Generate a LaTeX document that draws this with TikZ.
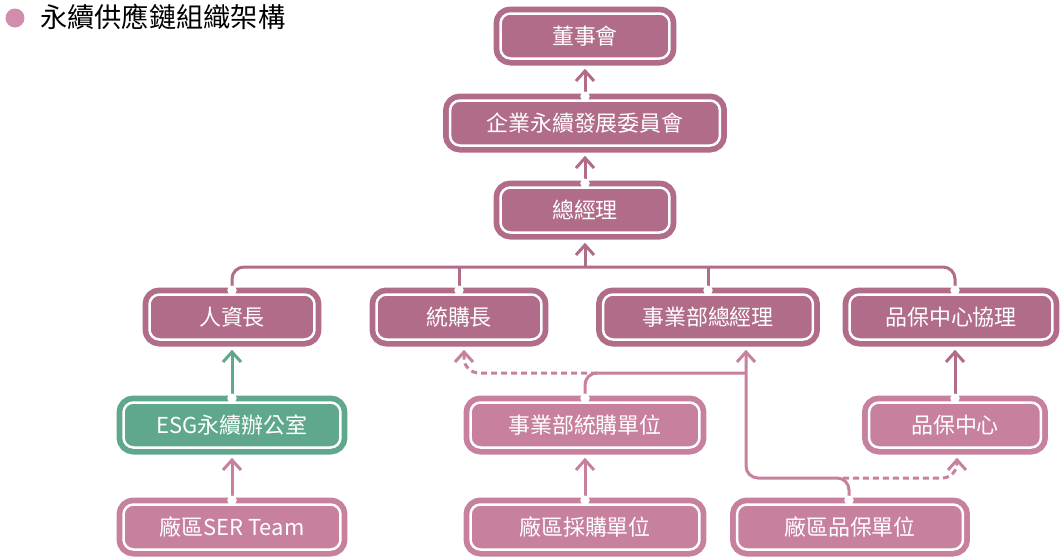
\documentclass[tikz,border=0pt]{standalone}
\usepackage{fontspec}
\setmainfont{Noto Sans CJK TC}
\usetikzlibrary{arrows.meta,calc}
\definecolor{mauve}{HTML}{B06C88}
\definecolor{rose}{HTML}{C7819F}
\definecolor{jade}{HTML}{5FA88C}
\definecolor{bulletpink}{HTML}{D08DAC}

\begin{document}
\begin{tikzpicture}[x=0.02cm, y=-0.02cm,
  box/.style={fill=#1, draw=white, line width=0.05cm, rounded corners=0.2cm,
    preaction={draw=#1, line width=0.28cm}, minimum height=0.9cm, inner sep=0pt,
    text=white, font=\fontsize{12.5}{15}\selectfont},
  link/.style={draw=#1, line width=0.06cm, rounded corners=0.24cm},
  tip/.style={-{Straight Barb[length=0.2cm, width=0.36cm]}, shorten >=0.18cm},
  dashlink/.style={link=rose, dash pattern=on 0.12cm off 0.08cm}]
\useasboundingbox (0,0) rectangle (1063,559);
% title
\node[circle, fill=bulletpink, minimum size=0.38cm, inner sep=0pt] (bullet) at (15,18) {};
\node[anchor=west, font=\fontsize{15.5}{18}\selectfont] (title) at (34,17) {永續供應鏈組織架構};
% boxes
\node[box=mauve, minimum width=3.38cm] (R1N1) at (585,36) {董事會};
\node[box=mauve, minimum width=5.4cm] (R2N1) at (585,123) {企業永續發展委員會};
\node[box=mauve, minimum width=3.38cm] (R3N1) at (585,210) {總經理};
\node[box=mauve, minimum width=3.3cm] (R4N1) at (232,317) {人資長};
\node[box=mauve, minimum width=3.3cm] (R4N2) at (459,317) {統購長};
\node[box=mauve, minimum width=4.2cm] (R4N3) at (708,317) {事業部總經理};
\node[box=mauve, minimum width=4.06cm] (R4N4) at (951,317) {品保中心協理};
\node[box=jade, minimum width=4.34cm] (R5N1) at (232,425) {ESG永續辦公室};
\node[box=rose, minimum width=4.58cm] (R5N2) at (585,425) {事業部統購單位};
\node[box=rose, minimum width=3.44cm] (R5N3) at (955,425) {品保中心};
\node[box=rose, minimum width=4.34cm] (R6N1) at (232,527) {廠區SER Team};
\node[box=rose, minimum width=4.58cm] (R6N2) at (585,527) {廠區採購單位};
\node[box=rose, minimum width=4.52cm] (R6N3) at (850,527) {廠區品保單位};
% dots
\coordinate (D21) at ($(R2N1.north)+(0,-3)$);
\coordinate (D31) at ($(R3N1.north)+(0,-3)$);
\coordinate (D41) at ($(R4N1.north)+(0,-3)$);
\coordinate (D42) at ($(R4N2.north)+(0,-3)$);
\coordinate (D43) at ($(R4N3.north)+(0,-3)$);
\coordinate (D44) at ($(R4N4.north)+(4,-3)$);
\coordinate (D51) at ($(R5N1.north)+(0,-3)$);
\coordinate (D52) at ($(R5N2.north)+(0,-3)$);
\coordinate (D53) at ($(R5N3.north)+(0,-3)$);
\coordinate (D61) at ($(R6N1.north)+(0,-3)$);
\coordinate (D62) at ($(R6N2.north)+(0,-3)$);
\coordinate (D63) at ($(R6N3.north)+(-1,-3)$);
% joints
\coordinate (B) at (585,267);
\coordinate (J1) at (746,373);
\coordinate (J2) at (746,478);
\coordinate (K1) at (597,373);
\coordinate (K2) at (843,478);
% connectors
\draw[link=mauve, tip] (D21) -- (R1N1.south);
\draw[link=mauve, tip] (D31) -- (R2N1.south);
\draw[link=mauve] (D41) |- (B) -| (D44);
\draw[link=mauve] (D42) -- (D42 |- B);
\draw[link=mauve] (D43) -- (D43 |- B);
\draw[link=mauve, tip] (B) -- (R3N1.south);
\draw[link=jade, tip] (D51) -- (R4N1.south);
\draw[link=rose, tip] (D61) -- (R5N1.south);
\draw[link=rose, tip] (D62) -- (R5N2.south);
\draw[link=mauve, tip] (D53) -- (D53 |- R4N4.south);
\draw[link=rose] (D52) |- (J1);
\draw[link=rose, tip] (D63) |- (J2) -- (J2 |- R4N3.south);
\draw[dashlink, tip, rounded corners=0.3cm] (K1) -| ($(R4N2.south)+(5,0)$);
\draw[dashlink, tip, rounded corners=0.3cm] (K2) -| ($(R5N3.south)+(2,0)$);
\foreach \d in {D21,D31,D41,D42,D43,D44,D51,D52,D53,D61,D62,D63}
  \fill[white] (\d) circle (0.095cm);
\end{tikzpicture}
\end{document}
